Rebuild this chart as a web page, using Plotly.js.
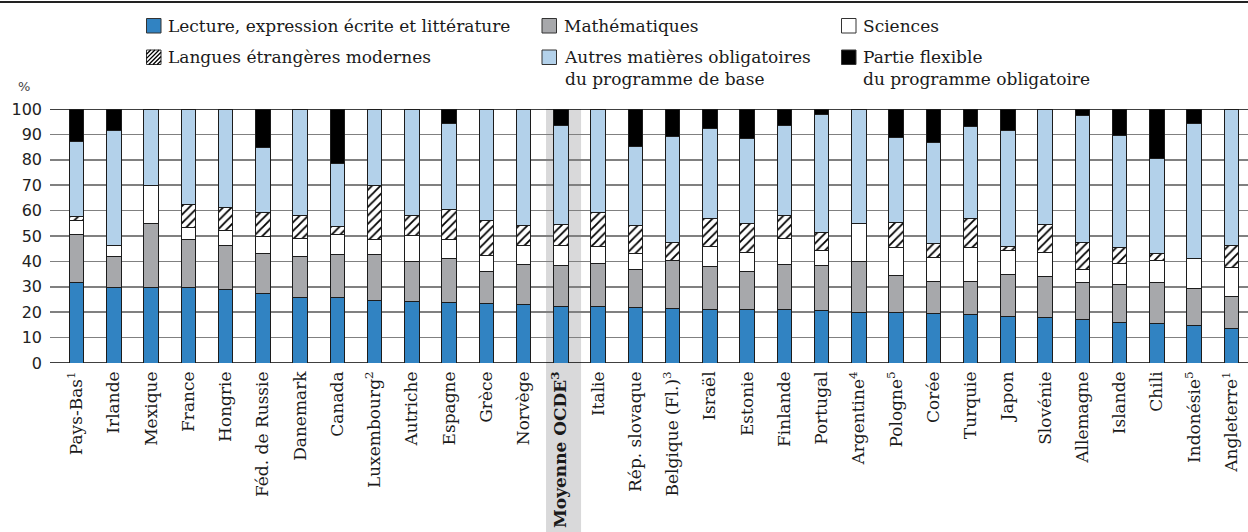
<!DOCTYPE html>
<html>
<head>
<meta charset="utf-8">
<script src="https://cdn.plot.ly/plotly-3.0.1.min.js"></script>
<style>
  html, body { margin: 0; padding: 0; background: #fff; }
  #chart { width: 1248px; height: 532px; }
</style>
</head>
<body>
<div id="chart"></div>
<script>
// Part of compulsory instruction time by subject (%), stacked per country
const categories = [
  'Pays-Bas<sup>1</sup>', 'Irlande', 'Mexique', 'France', 'Hongrie', 'Féd. de Russie',
  'Danemark', 'Canada', 'Luxembourg<sup>2</sup>', 'Autriche', 'Espagne', 'Grèce', 'Norvège',
  '<b>Moyenne OCDE<sup>3</sup></b>', 'Italie', 'Rép. slovaque', 'Belgique (Fl.)<sup>3</sup>',
  'Israël', 'Estonie', 'Finlande', 'Portugal', 'Argentine<sup>4</sup>', 'Pologne<sup>5</sup>',
  'Corée', 'Turquie', 'Japon', 'Slovénie', 'Allemagne', 'Islande', 'Chili',
  'Indonésie<sup>5</sup>', 'Angleterre<sup>1</sup>'
];
const averageLabel = '<b>Moyenne OCDE<sup>3</sup></b>';

const lecture   = [31.8, 29.9, 29.9, 29.8, 29.1, 27.2, 25.7, 25.6, 24.8, 24.3, 24.0, 23.4, 23.0,
                   22.3, 22.2, 21.7, 21.5, 21.1, 20.9, 20.9, 20.7, 19.8, 19.7, 19.3, 18.9, 18.4,
                   18.1, 17.1, 16.0, 15.7, 14.7, 13.4];
const maths     = [18.7, 12.1, 25.0, 18.8, 17.1, 15.8, 16.2, 17.1, 18.1, 15.5, 17.1, 12.7, 15.7,
                   15.9, 16.8, 15.0, 18.8, 17.0, 15.3, 17.8, 17.5, 20.0, 14.8, 12.9, 13.3, 16.4,
                   15.8, 14.4, 15.1, 16.1, 14.8, 12.8];
const sciences  = [5.7, 4.2, 14.9, 4.8, 5.8, 6.9, 7.3, 7.8, 5.9, 10.5, 7.7, 6.4, 7.5,
                   8.1, 6.9, 6.6, 0.0, 7.6, 7.4, 10.5, 6.0, 15.1, 11.0, 9.5, 13.3, 9.6,
                   9.8, 5.5, 7.9, 8.4, 11.7, 11.5];
const langues   = [1.3, 0.0, 0.0, 9.2, 9.3, 9.2, 8.7, 3.3, 21.1, 7.8, 11.8, 13.8, 8.0,
                   8.2, 13.2, 10.9, 7.3, 11.1, 11.5, 8.8, 7.0, 0.0, 10.0, 5.5, 11.3, 1.4,
                   11.0, 10.6, 6.3, 2.8, 0.0, 8.6];
const autres    = [29.8, 45.5, 30.2, 37.4, 38.7, 25.9, 42.1, 24.9, 30.1, 41.9, 33.6, 43.7, 45.8,
                   39.1, 40.9, 31.1, 41.6, 35.7, 33.1, 35.6, 46.6, 45.1, 33.1, 39.7, 36.4, 45.8,
                   45.3, 50.0, 44.3, 37.4, 52.9, 53.7];
const flexible  = [12.7, 8.3, 0.0, 0.0, 0.0, 15.0, 0.0, 21.3, 0.0, 0.0, 5.8, 0.0, 0.0,
                   6.4, 0.0, 14.7, 10.8, 7.5, 11.8, 6.4, 2.2, 0.0, 11.4, 13.1, 6.8, 8.4,
                   0.0, 2.4, 10.4, 19.6, 5.9, 0.0];

const yTicks = [0, 10, 20, 30, 40, 50, 60, 70, 80, 90, 100];
const strongLines = [0, 50, 100];

const seriesNames = [
  'Lecture, expression écrite et littérature',
  'Mathématiques',
  'Sciences',
  'Langues étrangères modernes',
  'Autres matières obligatoires<br>du programme de base',
  'Partie flexible<br>du programme obligatoire'
];
const seriesValues = [lecture, maths, sciences, langues, autres, flexible];
const seriesColors = ['#3183c2', '#a7a8ab', '#ffffff', '#ffffff', '#b3d1ea', '#000000'];

// Page geometry (pixels)
const M = { l: 50, r: 0, t: 109, b: 169 };
const FIG_W = 1248, FIG_H = 532;
const PW = FIG_W - M.l - M.r, PH = FIG_H - M.t - M.b;
const SLOT = 37.25;               // pixels per category
const firstCenter = 76.7;         // pixel x of first category
const xr0 = -(firstCenter - M.l) / SLOT;
const xr1 = xr0 + PW / SLOT;

const pxX = X => (X - M.l) / PW;
const pxY = Y => (FIG_H - M.b - Y) / PH;

const serif = 'DejaVu Serif';
const sans = 'DejaVu Sans';
const edge = '#1c1c1c';

const traces = seriesNames.map((name, i) => {
  const t = {
    type: 'bar',
    name: name,
    x: categories,
    y: seriesValues[i],
    showlegend: false,
    hoverinfo: 'x+y+name',
    marker: { color: seriesColors[i], line: { color: edge, width: 1 } }
  };
  if (i === 3) {
    t.marker.pattern = { shape: '/', fgcolor: '#000000', bgcolor: '#ffffff', size: 6, solidity: 0.3 };
  }
  return t;
});

const shapes = [];
const annotations = [];

// Shaded column behind the OECD average, running down through its label
const iAvg = categories.indexOf(averageLabel);
shapes.push({
  type: 'rect', layer: 'below', xref: 'x', yref: 'paper',
  x0: iAvg - 0.4, x1: iAvg + 0.54, y0: pxY(FIG_H), y1: 1,
  fillcolor: '#d9d9da', line: { width: 0 }
});

// Black reference lines over the grey grid
strongLines.forEach(v => shapes.push({
  type: 'line', layer: 'between', xref: 'paper', yref: 'y',
  x0: 0, x1: 1, y0: v, y1: v, line: { color: '#000000', width: 1.5 }
}));

// Rule across the top of the figure
shapes.push({
  type: 'line', xref: 'paper', yref: 'paper',
  x0: pxX(0), x1: pxX(FIG_W), y0: pxY(2), y1: pxY(2),
  line: { color: '#222222', width: 2 }
});

// Legend: three columns, two rows
const legendCols = [146.5, 542, 841.5];
const legendRows = [18.5, 50];
const BOX = 14.5;
const legendFont = { family: serif, size: 17, color: '#1a1a1a' };
seriesNames.forEach((name, i) => {
  const col = i % 3, row = Math.floor(i / 3);
  const x0 = legendCols[col], y0 = legendRows[row];
  shapes.push({
    type: 'rect', xref: 'paper', yref: 'paper',
    x0: pxX(x0), x1: pxX(x0 + BOX), y0: pxY(y0 + BOX), y1: pxY(y0),
    fillcolor: seriesColors[i], line: { color: '#333333', width: 1 }
  });
  if (i === 3) {
    // diagonal hatching inside the sample box
    let d = '';
    const step = 4.2;
    for (let s = step; s < 2 * BOX; s += step) {
      const pA = [x0 + Math.max(0, s - BOX), y0 + Math.min(BOX, s)];
      const pB = [x0 + Math.min(BOX, s), y0 + Math.max(0, s - BOX)];
      d += `M${pxX(pA[0])},${pxY(pA[1])}L${pxX(pB[0])},${pxY(pB[1])}`;
    }
    shapes.push({
      type: 'path', xref: 'paper', yref: 'paper', path: d,
      line: { color: '#000000', width: 1.3 }
    });
  }
  annotations.push({
    xref: 'paper', yref: 'paper',
    x: pxX(x0 + BOX + 5), y: pxY(y0 - 5),
    xanchor: 'left', yanchor: 'top', align: 'left',
    text: name, showarrow: false, font: legendFont
  });
});

// Unit label above the value axis
annotations.push({
  xref: 'paper', yref: 'paper', x: pxX(24), y: pxY(87),
  xanchor: 'center', yanchor: 'middle',
  text: '%', showarrow: false, font: { family: sans, size: 13, color: '#444444' }
});

const layout = {
  width: FIG_W, height: FIG_H,
  margin: M,
  paper_bgcolor: '#ffffff', plot_bgcolor: '#ffffff',
  barmode: 'stack', bargap: 0.61,
  showlegend: false,
  xaxis: {
    type: 'category', range: [xr0, xr1],
    showgrid: false, zeroline: false, showline: false, ticks: '',
    tickangle: -90, ticklabelstandoff: 4,
    tickfont: { family: serif, size: 17, color: '#1a1a1a' },
    fixedrange: true
  },
  yaxis: {
    range: [0, 100], tickvals: yTicks, ticktext: yTicks.map(String),
    showgrid: true, gridcolor: '#808080', gridwidth: 1.5,
    zeroline: false, showline: false, ticks: '', ticklabelstandoff: 7,
    tickfont: { family: sans, size: 16, color: '#222222' },
    fixedrange: true
  },
  shapes: shapes,
  annotations: annotations
};

Plotly.newPlot('chart', traces, layout, { displayModeBar: false, staticPlot: true });
</script>
</body>
</html>
